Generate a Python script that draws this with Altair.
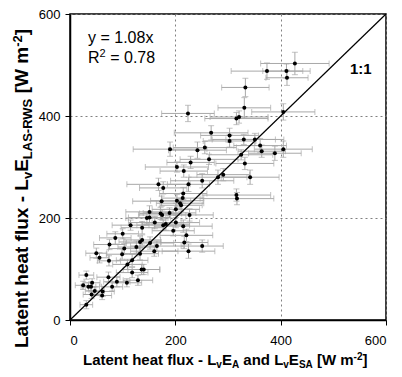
import altair as alt
import pandas as pd

# --- data ---
X_VALUES = [427, 374, 411, 412, 333, 331, 321, 316, 405, 303, 303, 330, 351, 361, 364, 389, 405, 325, 332,
            224, 268, 190, 242, 256, 264, 229, 203, 216, 281, 291, 251, 168, 177, 225, 215, 214, 203, 209, 211,
            174, 201, 189, 227, 172, 175, 151, 151, 161, 201, 215, 177, 182, 196, 221, 152, 165, 217, 251, 160,
            225, 342, 316, 317, 146, 115, 137, 100, 86, 137, 133, 75, 103, 126, 99, 133, 50, 56, 74, 118, 109,
            118, 136, 140, 31, 73, 129, 89, 108, 42, 25, 35, 40, 47, 62, 80, 41, 61, 31]
Y_VALUES = [503, 488, 488, 475, 456, 416, 398, 395, 408, 362, 351, 354, 354, 342, 331, 327, 335, 324, 307,
            405, 367, 335, 333, 338, 315, 309, 300, 292, 280, 285, 273, 266, 259, 266, 248, 239, 234, 229, 225,
            233, 217, 210, 206, 209, 206, 212, 201, 191, 191, 184, 186, 188, 175, 166, 151, 145, 152, 145, 135,
            135, 280, 245, 238, 200, 186, 181, 169, 161, 157, 153, 148, 140, 143, 129, 130, 131, 122, 116, 117, 109,
            93, 99, 99, 88, 84, 78, 75, 73, 73, 68, 65, 65, 57, 56, 65, 50, 48, 30]
X_ERR = [65, 68, 45, 40, 45, 50, 55, 60, 60, 55, 50, 60, 55, 50, 45, 50, 55, 60, 55,
         50, 70, 70, 55, 60, 55, 45, 60, 45, 55, 50, 60, 60, 45, 40, 45, 40, 50, 45, 40,
         55, 45, 50, 45, 40, 45, 45, 40, 50, 45, 55, 50, 45, 40, 50, 45, 50, 45, 40, 45,
         50, 55, 65, 70, 40, 35, 40, 30, 30, 35, 40, 30, 30, 35, 30, 35, 20, 18, 22, 30, 28,
         30, 35, 30, 14, 22, 28, 25, 28, 15, 15, 14, 16, 18, 22, 20, 16, 18, 12]
Y_ERR = [22, 16, 14, 15, 18, 20, 12, 12, 16, 14, 12, 10, 12, 14, 12, 14, 16, 10, 12,
         16, 14, 14, 16, 12, 10, 12, 10, 12, 14, 12, 14, 12, 12, 14, 12, 10, 12, 10, 12,
         10, 12, 10, 12, 12, 10, 12, 10, 12, 10, 12, 10, 12, 10, 12, 12, 10, 12, 12, 10,
         14, 14, 12, 12, 12, 10, 12, 10, 12, 10, 12, 10, 10, 12, 10, 12, 10, 10, 10, 12, 10,
         10, 10, 10, 8, 10, 10, 10, 8, 8, 8, 8, 10, 8, 10, 8, 8, 8, 8]
AXIS_TICKS = [0, 200, 400, 600]
ONE_TO_ONE = [0, 600]

df = pd.DataFrame({"x": X_VALUES, "y": Y_VALUES, "xe": X_ERR, "ye": Y_ERR})
df["xlo"] = df["x"] - df["xe"]
df["xhi"] = df["x"] + df["xe"]
df["ylo"] = df["y"] - df["ye"]
df["yhi"] = df["y"] + df["ye"]
line_df = pd.DataFrame({"v": ONE_TO_ONE})

FONT = "Liberation Sans"
ERR_COLOR = "#a8a8a8"
xs = alt.Scale(domain=[0, 600], nice=False, zero=False)
ys = alt.Scale(domain=[0, 600], nice=False, zero=False)
xaxis = alt.Axis(values=AXIS_TICKS, title=None, grid=True)
yaxis = alt.Axis(values=AXIS_TICKS, title=None, grid=True)

base = alt.Chart(df)
hbar = base.mark_rule(color=ERR_COLOR, strokeWidth=1).encode(
    x=alt.X("xlo:Q", scale=xs, axis=xaxis), x2="xhi:Q",
    y=alt.Y("y:Q", scale=ys, axis=yaxis))
hcap1 = base.mark_tick(color=ERR_COLOR, orient="vertical", size=6, thickness=1).encode(
    x=alt.X("xlo:Q", scale=xs), y=alt.Y("y:Q", scale=ys))
hcap2 = base.mark_tick(color=ERR_COLOR, orient="vertical", size=6, thickness=1).encode(
    x=alt.X("xhi:Q", scale=xs), y=alt.Y("y:Q", scale=ys))
vbar = base.mark_rule(color=ERR_COLOR, strokeWidth=1).encode(
    x=alt.X("x:Q", scale=xs), y=alt.Y("ylo:Q", scale=ys), y2="yhi:Q")
vcap1 = base.mark_tick(color=ERR_COLOR, orient="horizontal", size=6, thickness=1).encode(
    x=alt.X("x:Q", scale=xs), y=alt.Y("ylo:Q", scale=ys))
vcap2 = base.mark_tick(color=ERR_COLOR, orient="horizontal", size=6, thickness=1).encode(
    x=alt.X("x:Q", scale=xs), y=alt.Y("yhi:Q", scale=ys))
line = alt.Chart(line_df).mark_line(color="black", strokeWidth=1.2).encode(
    x=alt.X("v:Q", scale=xs), y=alt.Y("v:Q", scale=ys))
pts = base.mark_circle(color="black", opacity=1, size=16).encode(
    x=alt.X("x:Q", scale=xs), y=alt.Y("y:Q", scale=ys))

# --- text helpers (Arial / Liberation Sans Bold advance widths, per 1000 em) ---
BOLD_W = {"L": 611, "a": 556, "t": 333, "e": 556, "n": 611, " ": 278, "h": 611, "f": 333, "l": 278,
          "u": 611, "x": 556, "-": 333, "v": 556, "E": 667, "A": 722, "d": 611, "S": 667, "[": 333,
          "W": 944, "m": 889, "]": 333, "2": 556, "R": 722}
ONE_ROW = alt.Data(values=[{"a": 1}])


def text_layer(s, x, y, size, bold=False, angle=0):
    return alt.Chart(ONE_ROW).mark_text(
        text=s, font=FONT, fontSize=size, fontWeight="bold" if bold else "normal",
        angle=angle, align="left", baseline="alphabetic", color="black"
    ).encode(x=alt.value(x), y=alt.value(y))


def tw(s, size):
    return sum(BOLD_W[c] for c in s) * size / 1000.0


def rich_title(pieces, size, start, base_line, vertical):
    layers = []
    pos = start
    for s, kind in pieces:
        fs = size if kind == "n" else round(size * 0.68)
        off = 0 if kind == "n" else (0.2 * size if kind == "sub" else -0.33 * size)
        lead = len(s) - len(s.lstrip(" "))
        adv_lead = lead * 278 * fs / 1000.0
        body = s.lstrip(" ")
        if vertical:
            pos -= adv_lead
            layers.append(text_layer(body, base_line + off, pos, fs, bold=True, angle=270))
            pos -= tw(body, fs)
        else:
            pos += adv_lead
            layers.append(text_layer(body, pos, base_line + off, fs, bold=True))
            pos += tw(body, fs)
    return layers


X_TITLE = [("Latent heat flux - L", "n"), ("v", "sub"), ("E", "n"), ("A", "sub"), (" and L", "n"),
           ("v", "sub"), ("E", "n"), ("SA", "sub"), (" [W m", "n"), ("-2", "sup"), ("]", "n")]
Y_TITLE = [("Latent heat flux - L", "n"), ("v", "sub"), ("E", "n"), ("LAS-RWS", "sub"), (" [W m", "n"),
           ("-2", "sup"), ("]", "n")]

titles = rich_title(X_TITLE, 15, 13, 351, False) + rich_title(Y_TITLE, 19, 334, -42, True)

annots = [
    text_layer("y = 1.08x", 18, 29, 16),
    text_layer("R", 18, 49, 16),
    text_layer("2", 29.6, 43, 11),
    text_layer("= 0.78", 40.2, 49, 16),
    text_layer("1:1", 280, 60, 15, bold=True),
]

chart = alt.layer(hbar, hcap1, hcap2, vbar, vcap1, vcap2, line, pts, *annots, *titles).properties(
    width=316, height=306,
    autosize=alt.AutoSizeParams(type="none"),
    padding={"left": 62, "top": 6, "right": 8, "bottom": 49},
).configure_axis(
    domainColor="black", domainWidth=1.5, tickColor="black", tickSize=5, tickWidth=1,
    labelFont=FONT, labelFontSize=13, labelColor="black",
    gridColor="#808080", gridDash=[2, 3], gridWidth=1,
).configure_axisX(labelPadding=9).configure_axisY(labelPadding=5).configure_view(
    stroke="black", strokeWidth=1.5)

chart.save("out.html", embed_options={"renderer": "svg", "actions": False})
